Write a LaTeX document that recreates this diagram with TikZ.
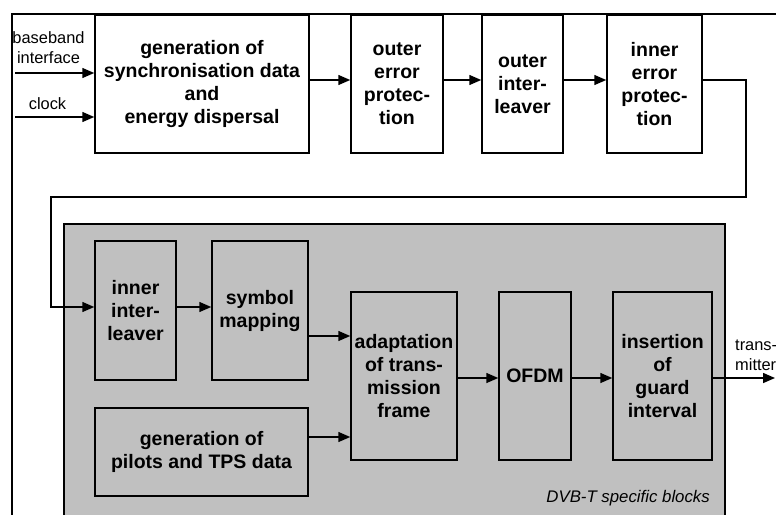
\documentclass[tikz,border=0pt]{standalone}
\usepackage{fontspec}
\setmainfont{Liberation Sans}
\usetikzlibrary{arrows.meta}
\usetikzlibrary{positioning}
\definecolor{blockgray}{RGB}{192,192,192}

\begin{document}
\begin{tikzpicture}[x=1pt,y=-1pt,
  blk/.style={draw, line width=1.5pt, inner sep=0pt, align=center, font=\fontsize{19.5}{23}\selectfont\bfseries},
  arr/.style={line width=1.5pt, -{Triangle[length=12pt,width=10pt]}},
  lbl/.style={inner sep=0pt, font=\fontsize{16.4}{20}\selectfont}]
\useasboundingbox (0,0) rectangle (776,514);
\clip (0,0) rectangle (776,514);

\fill[blockgray, draw=black, line width=1.5pt] (64,224) rectangle (725,540);
\draw[line width=2.6pt] (12,540) -- (12,14) -- (800,14);

\node[blk, minimum width=214pt, minimum height=138pt] (sync) at (202,84) {generation of\\synchronisation data\\and\\energy dispersal};
\node[blk, minimum width=92pt, minimum height=138pt] (outerep) at (397,84) {outer\\error\\protec-\\tion};
\node[blk, minimum width=81pt, minimum height=138pt] (outerint) at (522.5,84) {outer\\inter-\\leaver};
\node[blk, minimum width=95pt, minimum height=138pt] (innerep) at (654.5,84) {inner\\error\\protec-\\tion};

\node[blk, minimum width=81pt, minimum height=139pt] (innerint) at (135.5,310.5) {inner\\inter-\\leaver};
\node[blk, minimum width=96pt, minimum height=139pt] (symmap) at (260,310.5) {symbol\\mapping};
\node[blk, minimum width=213pt, minimum height=88pt] (pilots) at (201.5,452) {generation of\\pilots and TPS data};
\node[blk, minimum width=106pt, minimum height=168pt] (adapt) at (404,376) {adaptation\\of trans-\\mission\\frame};
\node[blk, minimum width=72pt, minimum height=168pt] (ofdm) at (535,376) {OFDM};
\node[blk, minimum width=99pt, minimum height=168pt] (guard) at (662.5,376) {insertion\\of\\guard\\interval};

\node[lbl, align=center] (bblabel) at (48.5,48) {baseband\\interface};
\node[lbl] (clklabel) at (47.5,103.5) {clock};
\node[lbl, align=left, anchor=west] (txlabel) at (735,355) {trans-\\mitter};
\node[inner sep=0pt, anchor=east, font=\fontsize{16.8}{20}\selectfont\itshape] (dvblabel) at (710,498) {DVB-T specific blocks};

\coordinate (bbin) at (15,73);
\coordinate (clkin) at (15,117);
\coordinate (turnA) at (746,197);
\coordinate (turnB) at (51,197);
\coordinate (txout) at (775,378);

\draw[arr] (bbin) -- (bbin -| sync.west);
\draw[arr] (clkin) -- (clkin -| sync.west);
\draw[arr] ([yshift=4pt]sync.east) -- ([yshift=4pt]outerep.west);
\draw[arr] ([yshift=4pt]outerep.east) -- ([yshift=4pt]outerint.west);
\draw[arr] ([yshift=4pt]outerint.east) -- ([yshift=4pt]innerep.west);
\draw[arr] ([yshift=4pt]innerep.east) -| (turnA) -- (turnB) |- ([yshift=3.5pt]innerint.west);
\draw[arr] ([yshift=3.5pt]innerint.east) -- ([yshift=3.5pt]symmap.west);
\draw[arr] ([yshift=-25.5pt]symmap.east) -- ([yshift=40pt]adapt.west);
\draw[arr] ([yshift=15pt]pilots.east) -- ([yshift=-61pt]adapt.west);
\draw[arr] ([yshift=-2pt]adapt.east) -- ([yshift=-2pt]ofdm.west);
\draw[arr] ([yshift=-2pt]ofdm.east) -- ([yshift=-2pt]guard.west);
\draw[arr] ([yshift=-2pt]guard.east) -- (txout);
\end{tikzpicture}
\end{document}
